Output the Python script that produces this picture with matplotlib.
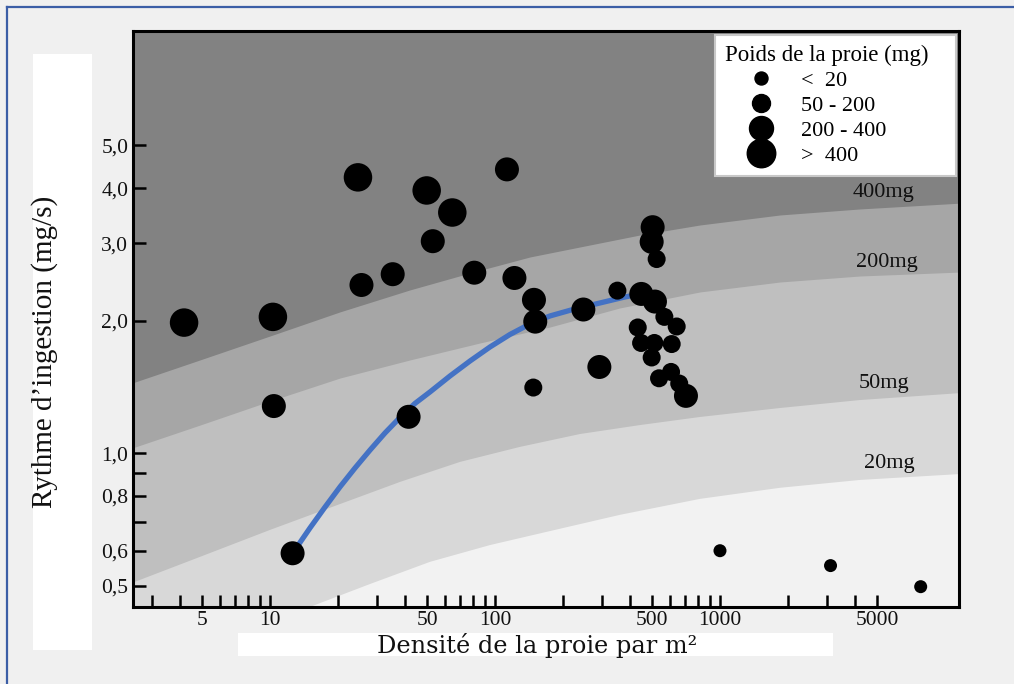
import matplotlib.pyplot as plt
from matplotlib.lines import Line2D
from matplotlib.patches import Rectangle
from matplotlib.ticker import FixedLocator, FixedFormatter, NullLocator

plt.rcParams['font.family'] = ['Liberation Serif', 'DejaVu Serif']

# Points par classe de poids de la proie (densité /m2, rythme mg/s)
x_gt400 = [4.15, 10.3, 24.6, 49.7, 64.6]
y_gt400 = [1.98, 2.04, 4.23, 3.95, 3.52]

x_200_400 = [10.4, 12.6, 52.9, 113, 25.5, 35.1, 80.9, 122, 149, 151, 247, 41.3,
             291, 502, 497, 447, 514, 706]
y_200_400 = [1.28, 0.593, 3.03, 4.41, 2.41, 2.55, 2.57, 2.50, 2.23, 1.99, 2.12, 1.21,
             1.57, 3.26, 3.02, 2.30, 2.21, 1.35]

x_50_200 = [148, 350, 523, 566, 642, 431, 446, 511, 610, 497, 536, 606, 659]
y_50_200 = [1.41, 2.34, 2.76, 2.04, 1.94, 1.93, 1.78, 1.78, 1.77, 1.65, 1.48, 1.53, 1.44]

x_lt20 = [1000, 3100, 7800]
y_lt20 = [0.601, 0.556, 0.498]

# Courbe bleue
curve_x = [12.66, 15.06, 17.56, 20.47, 23.87, 27.83, 32.44, 37.83, 44.11, 51.42,
           63.10, 77.44, 95.0, 116.6, 143.0, 175.6, 226.8, 292.9, 378.3, 445.6]
curve_y = [0.595, 0.677, 0.755, 0.839, 0.926, 1.017, 1.112, 1.206, 1.298, 1.378,
           1.498, 1.620, 1.743, 1.861, 1.966, 2.050, 2.127, 2.194, 2.264, 2.300]

# Limites des zones grises (poids de proie)
b400_x = [2.44, 4.886, 10.0, 20.47, 41.91, 77.44, 143.0, 292.9, 441.0, 815, 1848, 4191, 12000]
b400_y = [1.444, 1.629, 1.846, 2.094, 2.349, 2.566, 2.790, 3.002, 3.130, 3.298, 3.475, 3.586, 3.700]
b200_x = [2.44, 4.886, 10.0, 20.47, 41.91, 85.77, 175.6, 359.4, 815, 1848, 4191, 12000]
b200_y = [1.028, 1.159, 1.314, 1.482, 1.629, 1.780, 1.935, 2.138, 2.324, 2.448, 2.526, 2.580]
b50_x = [2.44, 4.886, 10.0, 20.47, 37.83, 69.92, 129.1, 238.7, 441.0, 815, 1848, 4191, 12000]
b50_y = [0.508, 0.582, 0.670, 0.767, 0.861, 0.956, 1.034, 1.106, 1.159, 1.209, 1.267, 1.321, 1.371]
b20_x = [2.44, 8.150, 15.06, 27.83, 51.42, 95.0, 175.6, 359.4, 815, 1848, 4191, 12000]
b20_y = [0.307, 0.393, 0.448, 0.505, 0.567, 0.619, 0.666, 0.725, 0.788, 0.835, 0.870, 0.898]

band_labels = ['400mg', '200mg', '50mg', '20mg']

x_ticks = [3, 4, 5, 6, 7, 8, 9, 10, 20, 30, 40, 50, 60, 70, 80, 90, 100,
           200, 300, 400, 500, 600, 700, 800, 900, 1000, 2000, 3000, 4000, 5000]
x_labels = {5: '5', 10: '10', 50: '50', 100: '100', 500: '500', 1000: '1000', 5000: '5000'}
y_ticks = [0.5, 0.6, 0.7, 0.8, 0.9, 1.0, 2.0, 3.0, 4.0, 5.0]
y_labels = ['0,5', '0,6', '', '0,8', '', '1,0', '2,0', '3,0', '4,0', '5,0']

legend_labels = ['<  20', '50 - 200', '200 - 400', '>  400']

W, H = 1014, 684
fig = plt.figure(figsize=(W / 100, H / 100), dpi=100, facecolor='#f0f0f0')

# cadre bleu et zones blanches derrière les titres d'axes
fig.add_artist(Line2D([7 / W, 7 / W], [0, 1 - 7 / H], color='#3b5ea6', lw=1.6))
fig.add_artist(Line2D([7 / W, 1], [1 - 7 / H, 1 - 7 / H], color='#3b5ea6', lw=1.6))
fig.patches.append(Rectangle((33 / W, 1 - 650 / H), 59 / W, 596 / H,
                             transform=fig.transFigure, facecolor='white', edgecolor='none'))
fig.patches.append(Rectangle((238 / W, 1 - 656 / H), 595 / W, 23 / H,
                             transform=fig.transFigure, facecolor='white', edgecolor='none'))

ax = fig.add_axes([132.5 / W, 1 - 607.3 / H, 826.8 / W, 576.3 / H])
ax.set_xscale('log')
ax.set_yscale('log')
ax.set_xlim(2.448, 11580)
ax.set_ylim(0.4471, 9.09)
ax.set_facecolor('#f2f2f2')

top = 20
ax.fill_between(b20_x, b20_y, top, color='#d8d8d8', lw=0, zorder=0)
ax.fill_between(b50_x, b50_y, top, color='#bfbfbf', lw=0, zorder=0)
ax.fill_between(b200_x, b200_y, top, color='#a6a6a6', lw=0, zorder=0)
ax.fill_between(b400_x, b400_y, top, color='#828282', lw=0, zorder=0)

label_pos = [(0.908, 0.719), (0.913, 0.599), (0.909, 0.389), (0.915, 0.250)]
for lab, (px, py) in zip(band_labels, label_pos):
    ax.text(px, py, lab, transform=ax.transAxes, ha='center', va='center',
            fontsize=16, color='#111111')

ax.plot(curve_x, curve_y, color='#4472c4', lw=3.8, zorder=2, solid_capstyle='butt')

ax.scatter(x_gt400, y_gt400, s=(28.5 * 0.72) ** 2, c='black', edgecolors='none', zorder=3)
ax.scatter(x_200_400, y_200_400, s=(24 * 0.72) ** 2, c='black', edgecolors='none', zorder=3)
ax.scatter(x_50_200, y_50_200, s=(18 * 0.72) ** 2, c='black', edgecolors='none', zorder=3)
ax.scatter(x_lt20, y_lt20, s=(13 * 0.72) ** 2, c='black', edgecolors='none', zorder=3)

# axes
for sp in ax.spines.values():
    sp.set_linewidth(2.2)
ax.xaxis.set_major_locator(FixedLocator(x_ticks))
ax.xaxis.set_major_formatter(FixedFormatter([x_labels.get(t, '') for t in x_ticks]))
ax.yaxis.set_major_locator(FixedLocator(y_ticks))
ax.yaxis.set_major_formatter(FixedFormatter(y_labels))
ax.xaxis.set_minor_locator(NullLocator())
ax.yaxis.set_minor_locator(NullLocator())
ax.tick_params(axis='both', which='major', direction='in', length=9, width=1.8,
               labelsize=15.5, color='black', labelcolor='#111111')
ax.tick_params(axis='x', pad=2.5)
ax.tick_params(axis='y', pad=3)

fig.text(45 / W, 1 - 352 / H, 'Rythme d’ingestion (mg/s)', rotation=90,
         ha='center', va='center', fontsize=21, color='#111111')
fig.text(537 / W, 1 - 645 / H, 'Densité de la proie par m²', ha='center', va='center',
         fontsize=17.3, family=['DejaVu Serif'], color='#111111')

# légende : boîte étirée à la largeur de l'original
handles = [Line2D([], [], ls='', marker='o', color='black', markersize=d * 0.72)
           for d in (13, 18, 24, 28.5)]
leg = ax.legend(handles, legend_labels, title='Poids de la proie (mg)', loc='upper right',
                bbox_to_anchor=(0.7045, 0.0, 0.2915, 0.993), mode='expand',
                fontsize=16, title_fontsize=16.5, frameon=True, fancybox=False,
                edgecolor='#c8c8c8', facecolor='white', framealpha=1,
                borderaxespad=0.0, borderpad=0.45, handlelength=3.2,
                handletextpad=0.2, labelspacing=0.2, alignment='left')
leg.get_frame().set_linewidth(1.5)
leg.set_zorder(5)

fig.savefig('out.png', dpi=100, facecolor=fig.get_facecolor())
